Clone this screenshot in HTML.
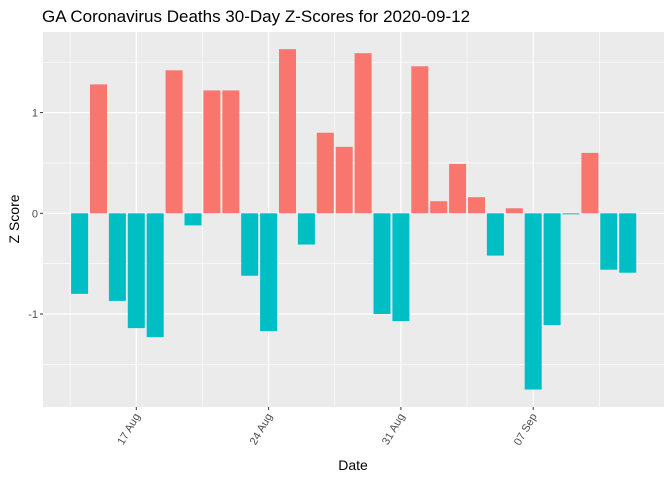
<!DOCTYPE html>
<html><head><meta charset="utf-8"><style>
html,body{margin:0;padding:0;background:#fff;}
svg text{font-family:"Liberation Sans",Arial,sans-serif;}
</style></head><body>
<svg id="chart" width="672" height="480" viewBox="0 0 672 480" xmlns="http://www.w3.org/2000/svg">
<text x="42" y="22" font-size="17" fill="#000">GA Coronavirus Deaths 30-Day Z-Scores for 2020-09-12</text>
<rect x="43" y="32" width="621" height="375" fill="#EBEBEB"/>
<g id="grid"></g>
<g id="bars"></g>
<g id="axes"></g>
<text x="0" y="0" font-size="14" fill="#000" text-anchor="middle" transform="translate(19,219) rotate(-90)">Z Score</text>
<text x="353" y="470" font-size="14" fill="#000" text-anchor="middle">Date</text>
</svg>
<script>
const days = ["08-14","08-15","08-16","08-17","08-18","08-19","08-20","08-21","08-22","08-23","08-24","08-25","08-26","08-27","08-28","08-29","08-30","08-31","09-01","09-02","09-03","09-04","09-05","09-06","09-07","09-08","09-09","09-10","09-11","09-12"];
const zscores = [-0.80,1.28,-0.87,-1.14,-1.23,1.42,-0.12,1.22,1.22,-0.62,-1.17,1.63,-0.31,0.80,0.66,1.59,-1.00,-1.07,1.46,0.12,0.49,0.16,-0.42,0.05,-1.75,-1.11,-0.01,0.60,-0.56,-0.59];
const xTickIdx = [3,10,17,24];
const xTickLabels = ["17 Aug","24 Aug","31 Aug","07 Sep"];
const yTicks = [-1,0,1];
const yMinor = [-1.5,-0.5,0.5,1.5];

const NS="http://www.w3.org/2000/svg";
const dayW=18.9, x0=79.6;
const xScale=i=>x0+i*dayW;
const yScale=v=>213.3-v*100.7;
const L=43,R=664,T=32,B=407;
function mk(tag,attrs,parent){const e=document.createElementNS(NS,tag);for(const k in attrs)e.setAttribute(k,attrs[k]);parent.appendChild(e);return e;}
const grid=document.getElementById('grid'),bars=document.getElementById('bars'),axes=document.getElementById('axes');
yMinor.forEach(v=>{const l=mk('line',{x1:L,x2:R,y1:yScale(v),y2:yScale(v),stroke:'#fff','stroke-width':0.6},grid);

});
yTicks.forEach(v=>{const l=mk('line',{x1:L,x2:R,y1:yScale(v),y2:yScale(v),stroke:'#fff','stroke-width':1.2},grid);

});
for(let k=-1;k<xTickIdx.length;k++){const i=(k<0?xTickIdx[0]-7:xTickIdx[k])+3.5;const x=xScale(i);if(x<L||x>R)continue;
const l=mk('line',{x1:x,x2:x,y1:T,y2:B,stroke:'#fff','stroke-width':0.6},grid);

}
xTickIdx.forEach(i=>{const l=mk('line',{x1:xScale(i),x2:xScale(i),y1:T,y2:B,stroke:'#fff','stroke-width':1.2},grid);

});
const bw=dayW*0.9;
zscores.forEach((v,i)=>{const y1=yScale(Math.max(v,0)),y2=yScale(Math.min(v,0));
const r=mk('rect',{x:xScale(i)-bw/2,y:y1,width:bw,height:Math.max(y2-y1,0.8),fill:v>0?'#F8766D':'#00BFC4'},bars);

});
yTicks.forEach(v=>{const y=yScale(v);
const t=mk('line',{x1:L-3,x2:L,y1:y,y2:y,stroke:'#333','stroke-width':1},axes);


const tx=mk('text',{x:L-5,y:y+4,'font-size':11,fill:'#4D4D4D','text-anchor':'end'},axes);tx.textContent=String(v);

});
xTickIdx.forEach((i,k)=>{const x=xScale(i);
const t=mk('line',{x1:x,x2:x,y1:B,y2:B+3,stroke:'#333','stroke-width':1},axes);


const tx=mk('text',{x:0,y:0,'font-size':11,fill:'#4D4D4D','text-anchor':'end',transform:`translate(${x+4},${B+9}) rotate(-60)`},axes);tx.textContent=xTickLabels[k];

});
</script>
</body></html>
